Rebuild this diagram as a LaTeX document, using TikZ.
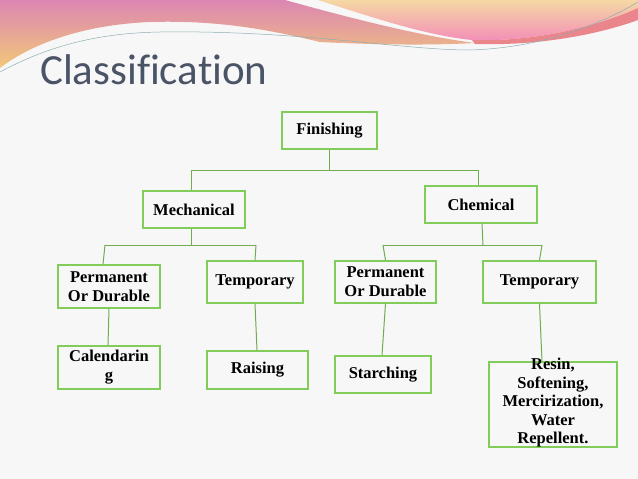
\documentclass[tikz,border=0pt]{standalone}
\usepackage{fontspec}
\newfontfamily\titlefont[Ligatures=NoCommon]{Carlito}
\newfontfamily\boxfont{Liberation Serif}
\usetikzlibrary{calc}
\definecolor{bg}{RGB}{247,247,247}
\definecolor{boxgreen}{RGB}{130,204,92}
\definecolor{linegreen}{RGB}{112,172,80}
\definecolor{titlecol}{RGB}{74,84,102}
\definecolor{pinkA}{RGB}{220,134,178}
\definecolor{salmonA}{RGB}{234,162,140}
\definecolor{yellowA}{RGB}{242,200,120}
\definecolor{peachB}{RGB}{245,216,164}
\definecolor{pinkB}{RGB}{243,140,184}
\definecolor{bandB}{RGB}{236,120,140}
\definecolor{thinline}{RGB}{140,175,180}
\begin{document}
\begin{tikzpicture}[x=1pt,y=-1pt,
  box/.style={draw=boxgreen,line width=1.8pt,inner sep=0pt,
    font=\boxfont\fontsize{16.5}{19}\selectfont\bfseries,align=center},
  txt/.style={inner sep=0pt,font=\boxfont\fontsize{16.5}{18.5}\selectfont\bfseries,align=center},
  link/.style={draw=linegreen,line width=1pt}]
\path[use as bounding box, fill=bg] (0,0) rectangle (638,479);
% decoration
\shade[top color=pinkA, middle color=salmonA, bottom color=yellowA]
  (0,0) -- (285,0) .. controls (350,18) and (420,36) .. (475,43)
  .. controls (420,46) and (360,44) .. (320,42)
  .. controls (270,30) and (220,20) .. (150,22)
  .. controls (80,25) and (30,45) .. (0,68) -- cycle;
\shade[top color=peachB, bottom color=pinkB]
  (318,0) .. controls (380,20) and (430,36) .. (472,40)
  .. controls (540,42) and (600,25) .. (638,8) -- (638,0) -- cycle;
\fill[bandB!70!salmonA]
  (472,40) .. controls (540,42) and (600,25) .. (638,8) -- (638,20)
  .. controls (600,34) and (540,46) .. (475,44) -- cycle;
\draw[thinline, line width=0.5pt] (0,72) .. controls (50,45) and (100,33) .. (160,32)
  .. controls (300,30) and (400,50) .. (470,50) .. controls (540,48) and (600,25) .. (638,2);
% title
\node[anchor=base west, inner sep=0pt, text=titlecol,
  font=\titlefont\fontsize{43}{43}\selectfont] (title) at (40,84) {Classification};
% boxes
\node[box, minimum width=95pt, minimum height=37pt] (fin) at (329.5,130.5) {Finishing};
\node[box, minimum width=102pt, minimum height=37pt] (mech) at (194,209.5) {Mechanical};
\node[box, minimum width=112pt, minimum height=37pt] (chem) at (481,204.5) {Chemical};
\node[box, minimum width=102pt, minimum height=43pt] (pod1) at (109,286.5) {Permanent\\Or Durable};
\node[box, minimum width=96pt, minimum height=42pt] (tmp1) at (255,282) {Temporary};
\node[box, minimum width=102pt, minimum height=43pt] (cal) at (109,367.5) {Calendarin\\g};
\node[box, minimum width=101pt, minimum height=38pt] (rai) at (257.5,370) {Raising};
\node[box, minimum width=101pt, minimum height=42pt] (pod2) at (385.5,282) {Permanent\\Or Durable};
\node[box, minimum width=113pt, minimum height=42pt] (tmp2) at (539.5,282) {Temporary};
\node[box, minimum width=96pt, minimum height=37pt] (sta) at (383,374.5) {Starching};
\node[box, minimum width=128pt, minimum height=85pt] (res) at (553,404.5) {};
\node[txt] (restxt) at (553,403) {Resin,\\Softening,\\Mercirization,\\Water\\Repellent.};
% connectors
\coordinate (fj) at (329.5,170);
\coordinate (fl) at (191,170);
\coordinate (fr) at (478,170);
\draw[link] (fin) -- (fj);
\draw[link] (fl) -- (fr);
\draw[link] (fl) -- (fl |- mech.north);
\draw[link] (fr) -- (fr |- chem.north);
\coordinate (mj) at (191,245);
\coordinate (ml) at (105,245);
\coordinate (mr) at (256,245);
\draw[link] (mech.south -| mj) -- (mj);
\draw[link] (ml) -- (mr);
\draw[link] (ml) -- ($(pod1.north)+(-6,0)$);
\draw[link] (mr) -- (tmp1.north);
\coordinate (cj) at (483,245);
\coordinate (cl) at (383,245);
\coordinate (cr) at (542,245);
\draw[link] ($(chem.south)+(1,0)$) -- (cj);
\draw[link] (cl) -- (cr);
\draw[link] (cl) -- (pod2.north);
\draw[link] (cr) -- (tmp2.north);
\draw[link] (pod1.south) -- ($(cal.north)+(-1,0)$);
\draw[link] (tmp1.south) -- ($(rai.north)+(-0.5,0)$);
\draw[link] (pod2.south) -- ($(sta.north)+(-1,0)$);
\draw[link] (tmp2.south) -- ($(res.north)+(-11,0)$);
\end{tikzpicture}
\end{document}
